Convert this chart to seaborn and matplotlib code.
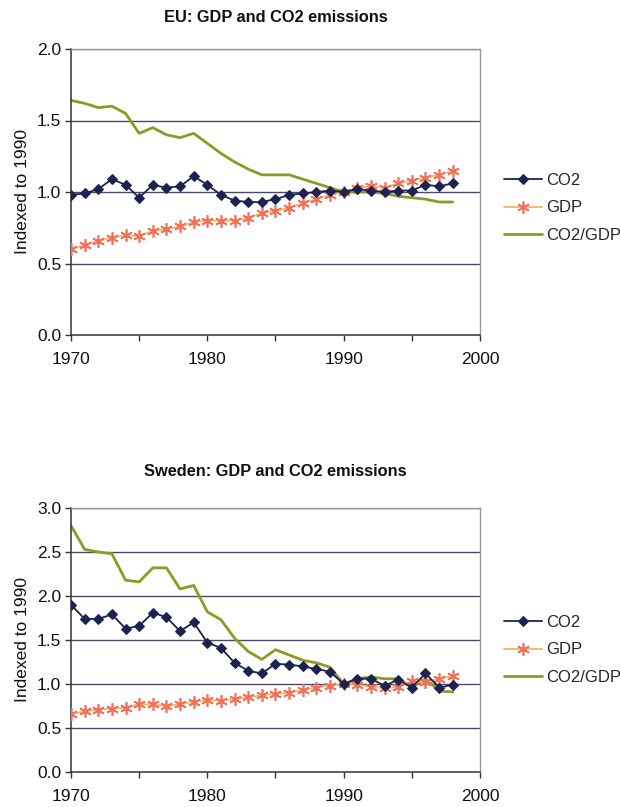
import numpy as np
import pandas as pd
import matplotlib
matplotlib.use("Agg")
import matplotlib.pyplot as plt
from matplotlib.ticker import MultipleLocator, FormatStrFormatter
import seaborn as sns

years = list(range(1970, 1999))

# EU, indexed to 1990
eu_co2 = [0.98, 0.99, 1.02, 1.09, 1.05, 0.96, 1.05, 1.03, 1.04, 1.11,
          1.05, 0.98, 0.94, 0.93, 0.93, 0.95, 0.98, 0.99, 1.00, 1.01,
          1.00, 1.02, 1.01, 1.00, 1.01, 1.01, 1.05, 1.04, 1.06]
eu_gdp = [0.60, 0.63, 0.66, 0.68, 0.70, 0.69, 0.73, 0.74, 0.76, 0.79,
          0.80, 0.80, 0.80, 0.82, 0.85, 0.87, 0.89, 0.92, 0.95, 0.98,
          1.00, 1.03, 1.04, 1.03, 1.06, 1.08, 1.10, 1.12, 1.15]
eu_ratio = [1.64, 1.62, 1.59, 1.60, 1.55, 1.41, 1.45, 1.40, 1.38, 1.41,
            1.34, 1.27, 1.21, 1.16, 1.12, 1.12, 1.12, 1.09, 1.06, 1.03,
            1.00, 1.00, 1.00, 0.99, 0.97, 0.96, 0.95, 0.93, 0.93]

# Sweden, indexed to 1990
se_co2 = [1.90, 1.74, 1.74, 1.79, 1.63, 1.66, 1.81, 1.76, 1.60, 1.70,
          1.47, 1.41, 1.24, 1.15, 1.12, 1.23, 1.22, 1.20, 1.17, 1.14,
          1.00, 1.06, 1.06, 0.98, 1.05, 0.96, 1.12, 0.96, 0.99]
se_gdp = [0.66, 0.69, 0.71, 0.72, 0.73, 0.77, 0.77, 0.75, 0.77, 0.80,
          0.82, 0.81, 0.83, 0.85, 0.87, 0.89, 0.90, 0.93, 0.96, 0.98,
          1.00, 0.99, 0.97, 0.95, 0.97, 1.03, 1.02, 1.06, 1.09]
se_ratio = [2.80, 2.53, 2.50, 2.48, 2.18, 2.16, 2.32, 2.32, 2.08, 2.12,
            1.82, 1.73, 1.52, 1.37, 1.28, 1.39, 1.33, 1.27, 1.24, 1.19,
            1.00, 1.06, 1.08, 1.06, 1.06, 0.96, 1.06, 0.92, 0.91]

series_names = ["CO2", "GDP", "CO2/GDP"]
titles = ["EU: GDP and CO2 emissions", "Sweden: GDP and CO2 emissions"]
y_maxes = [2.0, 3.0]

sns.set_theme(style="white")
plt.rcParams["font.family"] = ["Liberation Sans", "DejaVu Sans"]

fig = plt.figure(figsize=(6.2, 8.07), dpi=100)
W, H = 620, 807


def px_axes(left, top, right, bottom):
    return fig.add_axes([left / W, 1 - bottom / H, (right - left) / W, (bottom - top) / H])


ax_top = px_axes(71, 49, 480, 335)
ax_bot = px_axes(71, 508, 480, 772)

grid_col = "#4d4868"
co2_col = "#1c2350"
gdp_line = "#f4b878"
gdp_mark = "#f07058"
ratio_col = "#8e9a24"
star = (6, 2, 0)


def draw(ax, co2, gdp, ratio, ymax, title, title_y, legend_y):
    df = pd.DataFrame({"year": years, "CO2": co2, "GDP": gdp, "CO2/GDP": ratio})
    for v in np.arange(0.5, ymax + 0.01, 0.5):
        ax.axhline(v, color=grid_col, lw=1.0, zorder=0)
    sns.lineplot(data=df, x="year", y="CO2/GDP", ax=ax, color=ratio_col, lw=2.0,
                 label="CO2/GDP", zorder=2)
    sns.lineplot(data=df, x="year", y="GDP", ax=ax, color=gdp_line, lw=1.4,
                 marker=star, markersize=9, markeredgecolor=gdp_mark,
                 markerfacecolor=gdp_mark, markeredgewidth=1.2, label="GDP", zorder=3)
    sns.lineplot(data=df, x="year", y="CO2", ax=ax, color=co2_col, lw=1.3,
                 marker="D", markersize=5.5, markeredgecolor=co2_col,
                 markerfacecolor=co2_col, label="CO2", zorder=4)
    ax.set_xlim(1970, 2000)
    ax.set_ylim(0, ymax)
    ax.xaxis.set_major_locator(MultipleLocator(10))
    ax.xaxis.set_minor_locator(MultipleLocator(5))
    ax.yaxis.set_major_locator(MultipleLocator(0.5))
    ax.yaxis.set_major_formatter(FormatStrFormatter("%.1f"))
    ax.tick_params(axis="both", which="major", labelsize=12.5, length=4, width=1,
                   color="#333333", labelcolor="#111111", direction="out",
                   bottom=True, left=True)
    ax.tick_params(axis="x", which="major", pad=8)
    ax.tick_params(axis="x", which="minor", length=4, width=1, color="#333333",
                   direction="out", bottom=True)
    ax.tick_params(axis="y", pad=3)
    ax.set_xlabel("")
    ax.set_ylabel("Indexed to 1990", fontsize=12.5, color="#111111", labelpad=5)
    for side in ("left", "bottom"):
        ax.spines[side].set_color("#333333")
        ax.spines[side].set_linewidth(1.1)
    for side in ("top", "right"):
        ax.spines[side].set_color("#9a9a9a")
        ax.spines[side].set_linewidth(1.0)
    ax.set_facecolor("white")
    fig.text(275.5 / W, 1 - title_y / H, title, ha="center", va="center",
             fontsize=11.8, fontweight="bold", color="#111111")
    handles, labels = ax.get_legend_handles_labels()
    order = [labels.index(n) for n in series_names]
    ax.legend([handles[i] for i in order], [labels[i] for i in order],
              loc="center left", bbox_to_anchor=(497 / W, 1 - legend_y / H),
              bbox_transform=fig.transFigure, frameon=False, fontsize=12,
              handlelength=2.3, handletextpad=0.25, labelspacing=0.75,
              borderaxespad=0)


draw(ax_top, eu_co2, eu_gdp, eu_ratio, y_maxes[0], titles[0], 18, 208)
draw(ax_bot, se_co2, se_gdp, se_ratio, y_maxes[1], titles[1], 472, 650)

fig.savefig("out.png", dpi=100, facecolor="white")
